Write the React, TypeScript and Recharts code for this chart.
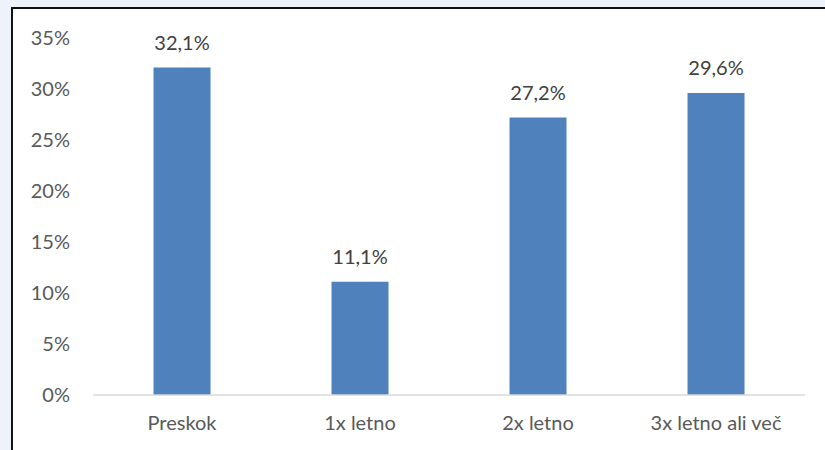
import React from "react";
import { BarChart, Bar, XAxis, YAxis, LabelList } from "recharts";

const categories = ["Preskok", "1x letno", "2x letno", "3x letno ali več"];
const values = [32.1, 11.1, 27.2, 29.6];
const yTicks = [0, 5, 10, 15, 20, 25, 30, 35];

const data = categories.map((name, i) => ({ name, value: values[i] }));

const fmt = (v: number) => `${String(v).replace(".", ",")}%`;
const FONT = "Lato, 'Open Sans', sans-serif";

export default function App() {
  return (
    <div
      style={{
        position: "fixed",
        left: 0,
        top: 0,
        width: 825,
        height: 450,
        background: "#eef2fb",
        overflow: "hidden",
      }}
    >
      <div
        style={{
          position: "absolute",
          left: 11,
          top: 7,
          width: 825,
          height: 450,
          background: "#ffffff",
          borderLeft: "2px solid #111",
          borderTop: "2px solid #111",
          boxShadow: "0 1px 0 #999",
        }}
      />
      <div style={{ position: "absolute", left: 0, top: 0 }}>
        <BarChart
          width={825}
          height={450}
          data={data}
          margin={{ top: 38, right: 20, bottom: 0, left: 0 }}
          barCategoryGap="34%"
        >
          <XAxis
            dataKey="name"
            height={55}
            tickLine={false}
            tickSize={0}
            tickMargin={21}
            axisLine={{ stroke: "#d9d9d9", strokeWidth: 1.5 }}
            tick={{ fill: "#595959", fontSize: 20, fontFamily: FONT }}
          />
          <YAxis
            width={93}
            domain={[0, 35]}
            ticks={yTicks}
            interval={0}
            tickFormatter={(v: number) => `${v}%`}
            axisLine={false}
            tickLine={false}
            tickSize={0}
            tickMargin={23}
            tick={{ fill: "#595959", fontSize: 20, fontFamily: FONT }}
          />
          <Bar dataKey="value" fill="#4f81bd" isAnimationActive={false}>
            <LabelList
              dataKey="value"
              position="top"
              offset={18}
              formatter={(v: number) => fmt(v)}
              style={{ fill: "#404040", fontSize: 20, fontFamily: FONT }}
            />
          </Bar>
        </BarChart>
      </div>
    </div>
  );
}
